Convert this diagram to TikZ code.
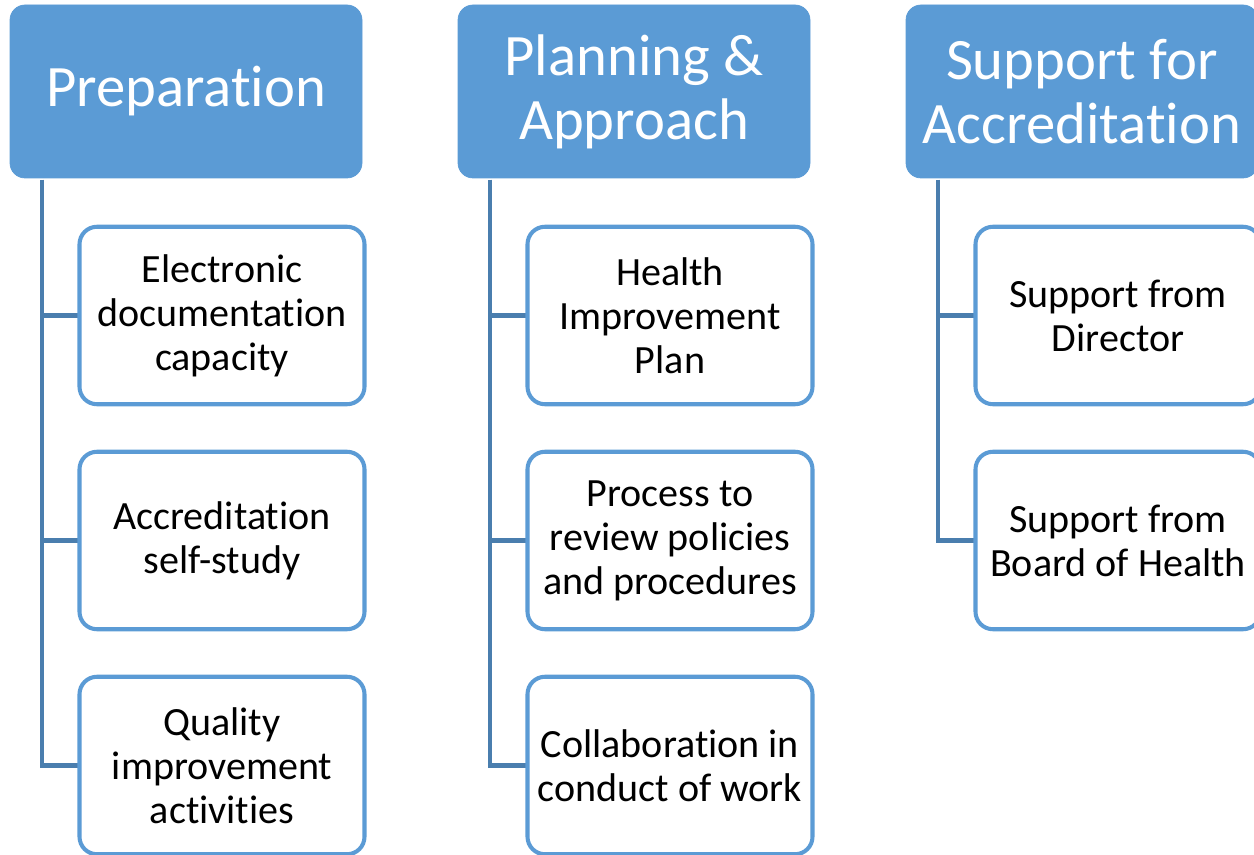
\documentclass[tikz,border=0pt]{standalone}
\usepackage{fontspec}
\setmainfont{Carlito}[Ligatures=NoCommon]
\definecolor{hdblue}{HTML}{5B9BD5}
\definecolor{lnblue}{HTML}{4A7EAE}
\begin{document}
\begin{tikzpicture}[
  head/.style={draw=hdblue,fill=hdblue,rounded corners=.3cm,minimum width=7.04cm,minimum height=3.46cm,
    text=white,align=center,font=\fontsize{33.4}{36.5}\selectfont},
  item/.style={draw=hdblue,line width=2.3pt,fill=white,rounded corners=.35cm,minimum width=5.7cm,minimum height=3.55cm,
    align=center,font=\fontsize{22.8}{25}\selectfont},
  link/.style={lnblue,line width=2.8pt}]
\useasboundingbox (0,0) rectangle (25.08,-17.1);
\clip (0,0) rectangle (25.08,-17.1);
\node [head] (h1) at (3.72,-1.83) {Preparation};
\node [head] (h2) at (12.68,-1.83) {Planning \&\\Approach};
\node [head] (h3) at (21.64,-1.83) {Support for\\Accreditation};
\coordinate (t1) at (0.84,-3.6);
\coordinate (t2) at (9.8,-3.6);
\coordinate (t3) at (18.76,-3.6);
\draw [link] (t1) |- (4.44,-15.31);
\draw [link] (t1) |- (4.44,-10.81);
\draw [link] (t1) |- (4.44,-6.31);
\node [item] (c11) at (4.44,-6.31) {Electronic\\documentation\\capacity};
\node [item] (c12) at (4.44,-10.81) {Accreditation\\self-study};
\node [item] (c13) at (4.44,-15.31) {Quality\\improvement\\activities};
\draw [link] (t2) |- (13.4,-15.31);
\draw [link] (t2) |- (13.4,-10.81);
\draw [link] (t2) |- (13.4,-6.31);
\node [item] (c21) at (13.4,-6.31) {Health\\Improvement\\Plan};
\node [item] (c22) at (13.4,-10.81) {Process to\\review policies\\and procedures};
\node [item] (c23) at (13.4,-15.31) {Collaboration in\\conduct of work};
\draw [link] (t3) |- (22.36,-10.81);
\draw [link] (t3) |- (22.36,-6.31);
\node [item] (c31) at (22.36,-6.31) {Support from\\Director};
\node [item] (c32) at (22.36,-10.81) {Support from\\Board of Health};
\end{tikzpicture}
\end{document}
